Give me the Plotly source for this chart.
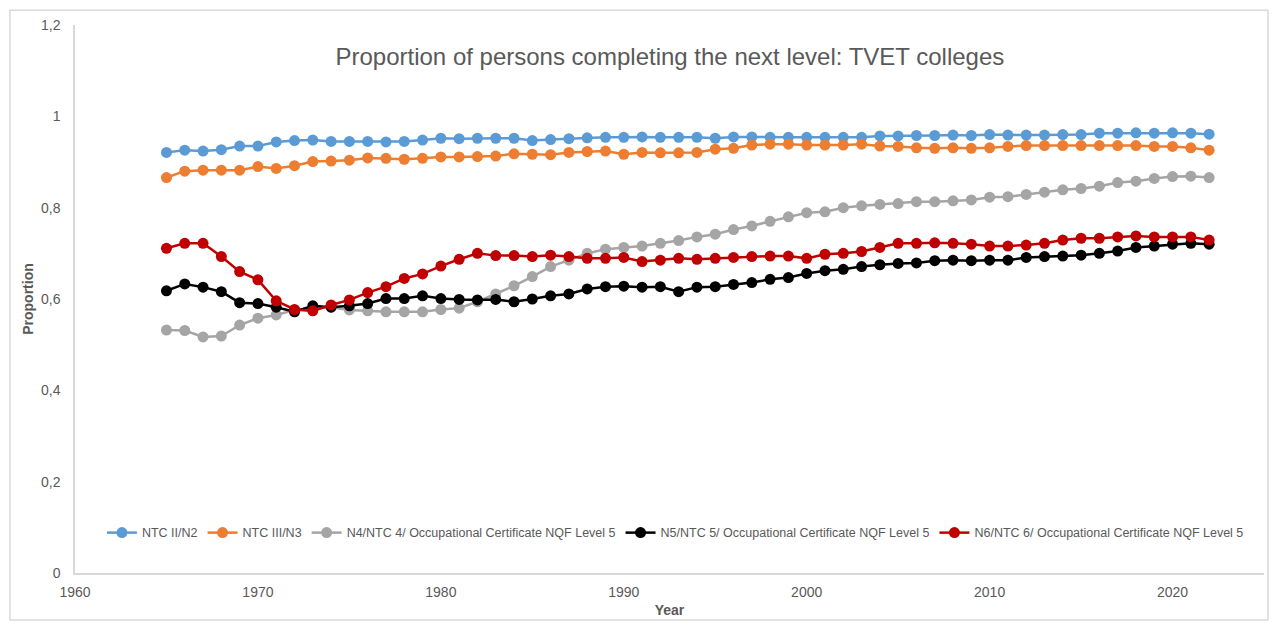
import plotly.graph_objects as go

# Years covered by the series
years = list(range(1965, 2023))

ntc_n2 = [0.921, 0.926, 0.924, 0.927, 0.935, 0.935, 0.944, 0.947, 0.948, 0.945,
          0.945, 0.945, 0.944, 0.945, 0.948, 0.952, 0.951, 0.952, 0.952, 0.952,
          0.947, 0.949, 0.951, 0.953, 0.954, 0.954, 0.955, 0.954, 0.954, 0.954,
          0.952, 0.955, 0.955, 0.954, 0.954, 0.954, 0.954, 0.954, 0.954,
          0.957, 0.957, 0.958, 0.958, 0.959, 0.958, 0.960, 0.959, 0.959, 0.959,
          0.960, 0.960, 0.963, 0.963, 0.964, 0.963, 0.964, 0.963, 0.961]

ntc_n3 = [0.866, 0.880, 0.882, 0.882, 0.882, 0.890, 0.886, 0.892, 0.901, 0.902,
          0.904, 0.909, 0.908, 0.906, 0.908, 0.911, 0.911, 0.912, 0.913, 0.918,
          0.917, 0.916, 0.921, 0.923, 0.924, 0.917, 0.921, 0.920, 0.920, 0.921,
          0.928, 0.930, 0.937, 0.939, 0.939, 0.937, 0.937, 0.937, 0.939,
          0.935, 0.934, 0.931, 0.930, 0.931, 0.930, 0.931, 0.934, 0.936, 0.936,
          0.936, 0.936, 0.936, 0.936, 0.936, 0.934, 0.934, 0.931, 0.926]

n4 = [0.532, 0.531, 0.517, 0.519, 0.543, 0.558, 0.565, 0.576, 0.580, 0.582,
      0.576, 0.574, 0.572, 0.572, 0.572, 0.577, 0.580, 0.594, 0.611, 0.629,
      0.649, 0.671, 0.685, 0.700, 0.709, 0.713, 0.716, 0.722, 0.728, 0.736,
      0.742, 0.752, 0.760, 0.770, 0.780, 0.789, 0.791, 0.800, 0.804,
      0.807, 0.809, 0.813, 0.813, 0.815, 0.817, 0.823, 0.824, 0.829, 0.834,
      0.839, 0.842, 0.847, 0.855, 0.858, 0.864, 0.868, 0.869, 0.866]

n5 = [0.618, 0.633, 0.626, 0.616, 0.592, 0.590, 0.582, 0.572, 0.585, 0.582,
      0.585, 0.590, 0.601, 0.601, 0.607, 0.601, 0.599, 0.598, 0.599, 0.594,
      0.600, 0.607, 0.611, 0.622, 0.627, 0.628, 0.626, 0.627, 0.616, 0.626,
      0.627, 0.632, 0.636, 0.643, 0.647, 0.656, 0.662, 0.665, 0.671,
      0.675, 0.678, 0.679, 0.684, 0.685, 0.684, 0.685, 0.685, 0.691, 0.693,
      0.694, 0.696, 0.700, 0.705, 0.713, 0.716, 0.720, 0.722, 0.720]

n6 = [0.711, 0.722, 0.722, 0.693, 0.660, 0.642, 0.596, 0.577, 0.574, 0.587,
      0.598, 0.614, 0.627, 0.645, 0.655, 0.672, 0.687, 0.700, 0.695, 0.695,
      0.693, 0.696, 0.693, 0.689, 0.689, 0.691, 0.682, 0.685, 0.689, 0.687,
      0.689, 0.691, 0.693, 0.694, 0.694, 0.689, 0.698, 0.700, 0.704,
      0.713, 0.722, 0.722, 0.723, 0.722, 0.720, 0.716, 0.716, 0.718, 0.722,
      0.729, 0.733, 0.733, 0.736, 0.738, 0.736, 0.736, 0.736, 0.729]

series_names = [
    "NTC II/N2",
    "NTC III/N3",
    "N4/NTC 4/ Occupational Certificate NQF Level 5",
    "N5/NTC 5/ Occupational Certificate NQF Level 5",
    "N6/NTC 6/ Occupational Certificate NQF Level 5",
]
series_values = [ntc_n2, ntc_n3, n4, n5, n6]
series_colors = ["#5B9BD5", "#ED7D31", "#A5A5A5", "#000000", "#C00000"]

x_ticks = [1960, 1970, 1980, 1990, 2000, 2010, 2020]
y_ticks = [0, 0.2, 0.4, 0.6, 0.8, 1.0, 1.2]

text_color = "#595959"
axis_color = "#D9D9D9"

fig = go.Figure()
for name, vals, col in zip(series_names, series_values, series_colors):
    fig.add_trace(go.Scatter(
        x=years, y=vals, name=name, mode="lines+markers",
        line=dict(color=col, width=2.5),
        marker=dict(color=col, size=11),
    ))

fig.update_layout(
    width=1276, height=628,
    margin=dict(l=75, r=12, t=25, b=55),
    paper_bgcolor="white", plot_bgcolor="white",
    separators=",.",
    font=dict(family="Liberation Sans, Arial, sans-serif", color=text_color, size=14),
    title=dict(
        text="Proportion of persons completing the next level: TVET colleges",
        x=0.525, xanchor="center", y=0.91, yanchor="middle",
        font=dict(size=24, color=text_color),
    ),
    showlegend=True,
    legend=dict(
        orientation="h", x=0.505, xanchor="center", y=0.073, yanchor="middle",
        font=dict(size=12.5, color=text_color), bgcolor="rgba(0,0,0,0)",
        itemwidth=30, tracegroupgap=0,
    ),
    xaxis=dict(
        range=[1960, 2025], tickvals=x_ticks, showgrid=False, zeroline=False,
        showline=True, linecolor=axis_color, linewidth=1.5, ticks="",
        ticklabelstandoff=5,
        tickfont=dict(size=14, color=text_color),
        title=dict(text="<b>Year</b>", font=dict(size=14, color=text_color), standoff=7),
    ),
    yaxis=dict(
        range=[0, 1.2], tickvals=y_ticks, showgrid=False, zeroline=False,
        showline=True, linecolor=axis_color, linewidth=1.5, ticks="",
        ticklabelstandoff=10,
        tickfont=dict(size=14, color=text_color),
        title=dict(text="<b>Proportion</b>", font=dict(size=14, color=text_color), standoff=4),
    ),
    shapes=[dict(
        type="rect", xref="paper", yref="paper",
        x0=-0.0547, x1=1.0034, y0=-0.0858, y1=1.027,
        line=dict(color="#D9D9D9", width=1.5), fillcolor="rgba(0,0,0,0)",
    )],
)

fig.write_html("out.html")
